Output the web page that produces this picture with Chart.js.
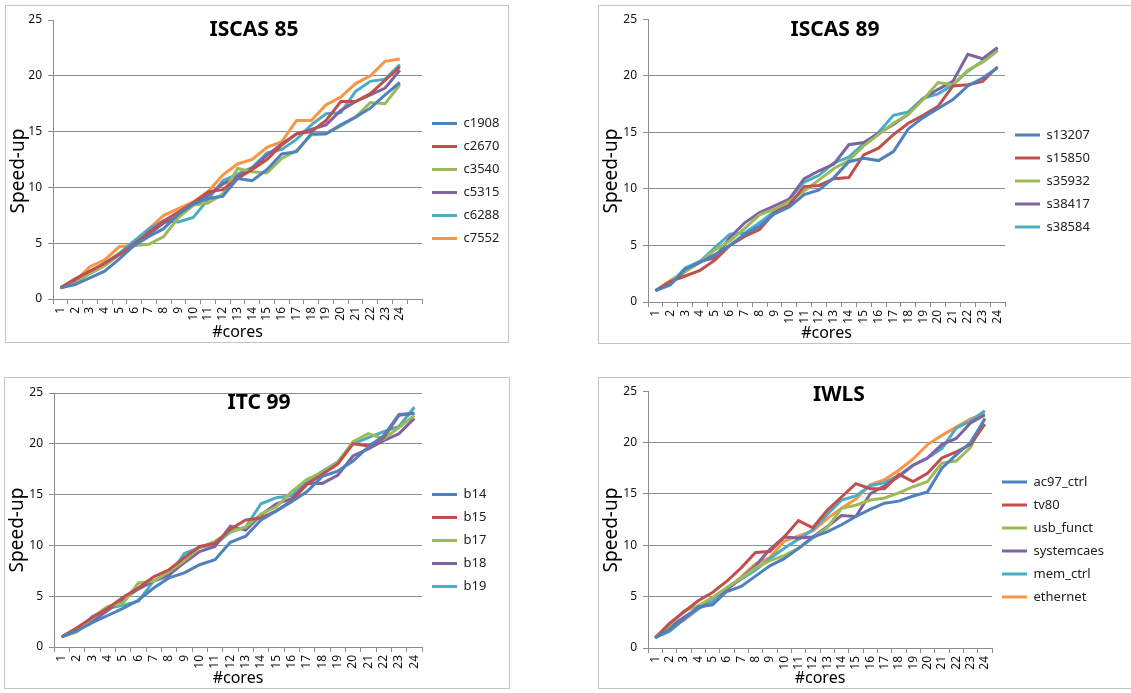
<!DOCTYPE html>
<html>
<head>
<meta charset="utf-8">
<script src="https://cdn.jsdelivr.net/npm/chart.js@4.4.1/dist/chart.umd.min.js"></script>
<style>
  html, body { margin: 0; padding: 0; background: #fff; overflow: hidden; }
  body { width: 1131px; height: 693px; position: relative; }
  .panel { position: absolute; border: 1px solid #c4c4c4; background: #fff; }
  canvas { display: block; }
</style>
</head>
<body>
<div class="panel" style="left:5px;top:5px;"><canvas id="chart85" width="502" height="336"></canvas></div>
<div class="panel" style="left:598px;top:5px;"><canvas id="chart89" width="560" height="337"></canvas></div>
<div class="panel" style="left:4px;top:377px;"><canvas id="chartItc" width="504" height="310"></canvas></div>
<div class="panel" style="left:598px;top:377px;"><canvas id="chartIwls" width="560" height="310"></canvas></div>
<script>
// x categories
var cores = ["1","2","3","4","5","6","7","8","9","10","11","12","13","14","15","16","17","18","19","20","21","22","23","24"];
var yTicks = [0, 5, 10, 15, 20, 25];

// ISCAS 85
var c1908 = [1, 1.3, 1.9, 2.5, 3.6, 4.8, 5.6, 6.3, 7.6, 8.5, 9.0, 9.2, 10.8, 10.6, 11.6, 13.0, 13.2, 14.8, 14.8, 15.6, 16.3, 17.1, 18.3, 19.4];
var c2670 = [1, 1.8, 2.5, 3.2, 4.0, 4.8, 6.0, 7.0, 7.8, 8.6, 9.6, 9.8, 10.8, 11.6, 12.5, 13.8, 14.8, 15.0, 16.0, 17.7, 17.7, 18.4, 19.6, 20.8];
var c3540 = [1, 1.4, 2.3, 3.0, 4.0, 4.8, 4.9, 5.6, 7.3, 8.4, 8.6, 9.4, 11.7, 11.4, 11.3, 12.6, 13.3, 14.7, 14.8, 15.5, 16.3, 17.6, 17.5, 19.2];
var c5315 = [1, 1.6, 2.3, 3.0, 4.0, 5.0, 5.8, 6.8, 7.4, 8.6, 9.3, 10.3, 11.0, 11.7, 12.9, 13.9, 14.8, 15.2, 15.6, 16.9, 17.7, 18.3, 18.9, 20.5];
var c6288 = [1, 1.5, 2.4, 3.2, 4.1, 5.2, 6.3, 7.0, 6.9, 7.3, 8.9, 10.6, 11.2, 11.8, 13.1, 13.4, 14.3, 15.6, 16.6, 16.7, 18.6, 19.5, 19.7, 21.0];
var c7552 = [1, 1.6, 2.9, 3.5, 4.7, 4.8, 6.3, 7.5, 8.1, 8.7, 9.6, 11.1, 12.1, 12.5, 13.6, 14.1, 16.0, 16.0, 17.4, 18.1, 19.3, 20.0, 21.3, 21.5];

// ISCAS 89
var s13207 = [1, 1.5, 2.9, 3.5, 4.2, 5.0, 6.0, 6.7, 7.8, 8.4, 9.5, 9.9, 11.0, 12.4, 12.7, 12.5, 13.3, 15.3, 16.3, 17.1, 17.9, 19.1, 19.8, 20.7];
var s15850 = [1, 1.8, 2.3, 2.8, 3.7, 5.0, 5.8, 6.4, 7.9, 8.6, 10.2, 10.3, 10.9, 11.0, 13.0, 13.6, 14.8, 15.8, 16.5, 17.3, 19.1, 19.2, 19.5, 20.8];
var s35932 = [1, 1.9, 2.7, 3.5, 4.6, 5.4, 6.5, 7.7, 8.2, 8.9, 9.8, 10.8, 11.8, 12.5, 13.8, 14.8, 15.8, 16.6, 17.9, 19.4, 19.2, 20.5, 21.2, 22.2];
var s38417 = [1, 1.7, 2.7, 3.6, 3.9, 5.7, 7.0, 7.9, 8.5, 9.1, 10.9, 11.6, 12.2, 13.9, 14.1, 14.9, 15.7, 16.6, 18.0, 18.8, 19.5, 21.9, 21.5, 22.5];
var s38584 = [1, 1.6, 3.0, 3.6, 4.8, 6.0, 6.1, 7.0, 8.0, 9.1, 10.6, 11.2, 12.3, 12.8, 14.0, 15.0, 16.5, 16.8, 18.0, 18.4, 19.2, 20.4, 21.3, 22.3];

// ITC 99
var b14 = [1, 1.6, 2.4, 3.1, 3.8, 4.6, 5.8, 6.8, 7.3, 8.1, 8.6, 10.3, 10.9, 12.5, 13.4, 14.3, 15.3, 16.8, 17.3, 18.3, 19.7, 20.8, 22.9, 23.0];
var b15 = [1, 1.9, 2.9, 3.8, 4.9, 5.8, 6.9, 7.6, 8.8, 9.9, 10.2, 11.6, 12.5, 12.7, 13.4, 14.4, 16.0, 17.0, 18.0, 20.0, 19.8, 20.6, 22.8, 23.0];
var b17 = [1, 1.5, 2.9, 4.0, 4.3, 6.3, 6.5, 7.4, 8.5, 9.8, 10.4, 11.4, 11.8, 13.1, 13.8, 15.3, 16.5, 17.2, 18.2, 20.2, 21.0, 20.5, 21.6, 22.8];
var b18 = [1, 1.6, 2.5, 3.6, 4.7, 5.7, 6.5, 7.1, 8.3, 9.4, 9.9, 11.9, 11.5, 13.0, 14.1, 14.6, 16.1, 16.1, 16.9, 18.8, 19.5, 20.3, 21.0, 22.5];
var b19 = [1, 1.5, 3.0, 3.8, 4.1, 4.5, 6.5, 7.0, 9.2, 9.8, 10.1, 11.3, 11.8, 14.1, 14.7, 14.9, 16.3, 17.3, 18.2, 20.0, 20.6, 21.2, 21.7, 23.6];

// IWLS
var ac97_ctrl = [1, 1.8, 2.8, 4.0, 4.2, 5.5, 6.0, 7.0, 8.0, 8.7, 9.7, 10.8, 11.3, 12.0, 12.8, 13.5, 14.1, 14.3, 14.8, 15.2, 17.5, 18.8, 20.0, 22.3];
var tv80 = [1, 2.4, 3.5, 4.6, 5.4, 6.5, 7.8, 9.3, 9.4, 10.8, 12.4, 11.7, 13.4, 14.7, 16.0, 15.5, 15.5, 16.9, 16.2, 17.0, 18.5, 19.1, 19.8, 21.8];
var usb_funct = [1, 2.2, 3.6, 4.1, 4.9, 5.9, 6.8, 7.8, 8.5, 9.0, 9.7, 10.7, 11.7, 13.6, 13.9, 14.4, 14.6, 15.1, 15.7, 16.2, 18.0, 18.2, 19.5, 22.4];
var systemcaes = [1, 2.0, 3.0, 3.9, 4.9, 5.7, 6.8, 8.0, 9.6, 10.8, 10.7, 10.8, 11.8, 12.9, 12.8, 15.0, 15.8, 16.7, 17.8, 18.5, 19.8, 20.4, 21.9, 22.7];
var mem_ctrl = [1, 1.6, 2.8, 3.8, 4.5, 5.8, 6.7, 7.6, 8.7, 9.7, 10.6, 11.5, 13.0, 14.4, 14.8, 15.8, 16.1, 16.8, 17.8, 18.5, 19.4, 21.4, 22.1, 23.1];
var ethernet = [1, 1.9, 2.7, 3.8, 4.9, 5.8, 6.9, 8.2, 8.8, 10.4, 10.9, 11.4, 12.6, 13.6, 14.5, 15.9, 16.4, 17.3, 18.4, 19.8, 20.7, 21.5, 22.3, 22.8];

var colors = ["#4F81BD", "#C0504D", "#9BBB59", "#8064A2", "#4BACC6", "#F79646"];
var FONT = '"Noto Sans", "DejaVu Sans", sans-serif';
var GRID = "#8c8c8c";

// panel heading and the y caption sit where Excel put them, not where Chart.js would
var panelText = {
  id: "panelText",
  afterDraw: function (chart, args, opts) {
    var ctx = chart.ctx;
    ctx.save();
    ctx.fillStyle = "#000";
    ctx.textAlign = "center";
    ctx.textBaseline = "middle";
    ctx.font = "bold 21px " + FONT;
    ctx.fillText(opts.text, opts.x, opts.y);
    ctx.translate(opts.yx, opts.yy);
    ctx.rotate(-Math.PI / 2);
    ctx.font = "19px " + FONT;
    ctx.fillText("Speed-up", 0, 0);
    ctx.restore();
  }
};

function makeChart(id, title, names, series, labels, box) {
  var datasets = names.map(function (n, i) {
    return {
      label: n,
      data: series[i],
      borderColor: colors[i],
      backgroundColor: colors[i],
      borderWidth: 3,
      pointRadius: 0,
      tension: 0,
      fill: false
    };
  });
  var canvas = document.getElementById(id);
  var chart = new Chart(canvas.getContext("2d"), {
    type: "line",
    data: { labels: labels, datasets: datasets },
    plugins: [panelText],
    options: {
      responsive: false,
      animation: false,
      devicePixelRatio: 1,
      layout: { padding: { left: 0, top: box.top, right: 10, bottom: 0 } },
      plugins: {
        panelText: { text: title, x: box.tx, y: box.ty, yx: 13, yy: box.yy },
        title: { display: false },
        tooltip: { enabled: false },
        legend: {
          position: "right",
          align: "center",
          labels: {
            usePointStyle: true,
            pointStyle: "line",
            pointStyleWidth: 25,
            padding: 10,
            color: "#222",
            font: { family: FONT, size: 13 }
          }
        }
      },
      scales: {
        x: {
          type: "category",
          offset: true,
          afterFit: function (s) { s.height = canvas.height - box.bottom; },
          grid: { drawOnChartArea: false, offset: true, tickLength: 5, tickColor: GRID },
          border: { color: GRID },
          ticks: { autoSkip: false, maxRotation: 90, minRotation: 90, padding: 3, color: "#111", font: { family: FONT, size: 12 } },
          title: { display: true, text: "#cores", color: "#000", padding: 0, font: { family: FONT, size: 16 } }
        },
        y: {
          min: 0,
          max: 25,
          afterFit: function (s) { s.width = box.left; },
          afterBuildTicks: function (s) { s.ticks = yTicks.map(function (v) { return { value: v }; }); },
          grid: {
            tickLength: 5,
            tickColor: GRID,
            color: function (c) {
              if (c.tick.value === 0) return "rgba(0,0,0,0)";
              if (c.tick.value === 25 && !box.topLine) return "rgba(0,0,0,0)";
              return GRID;
            }
          },
          border: { color: GRID },
          ticks: { padding: 6, color: "#111", font: { family: FONT, size: 12 } },
          title: { display: false }
        }
      }
    }
  });
  // line the plot's right edge up with the reference
  var d = chart.chartArea.right - box.right;
  chart.options.layout.padding.right += d;
  chart.update("none");
  return chart;
}

makeChart("chart85", "ISCAS 85",
  ["c1908", "c2670", "c3540", "c5315", "c6288", "c7552"],
  [c1908, c2670, c3540, c5315, c6288, c7552],
  cores.concat([""]),
  { left: 47, top: 14, right: 416, bottom: 293, tx: 248, ty: 24, yy: 165, topLine: false });

makeChart("chart89", "ISCAS 89",
  ["s13207", "s15850", "s35932", "s38417", "s38584"],
  [s13207, s15850, s35932, s38417, s38584],
  cores,
  { left: 49, top: 13, right: 406, bottom: 296, tx: 236, ty: 24, yy: 165, topLine: false });

makeChart("chartItc", "ITC 99",
  ["b14", "b15", "b17", "b18", "b19"],
  [b14, b15, b17, b18, b19],
  cores,
  { left: 49, top: 15, right: 417, bottom: 269, tx: 254, ty: 25, yy: 152, topLine: true });

makeChart("chartIwls", "IWLS",
  ["ac97_ctrl", "tv80", "usb_funct", "systemcaes", "mem_ctrl", "ethernet"],
  [ac97_ctrl, tv80, usb_funct, systemcaes, mem_ctrl, ethernet],
  cores,
  { left: 49, top: 13, right: 393, bottom: 270, tx: 240, ty: 17, yy: 152, topLine: false });
</script>
</body>
</html>
